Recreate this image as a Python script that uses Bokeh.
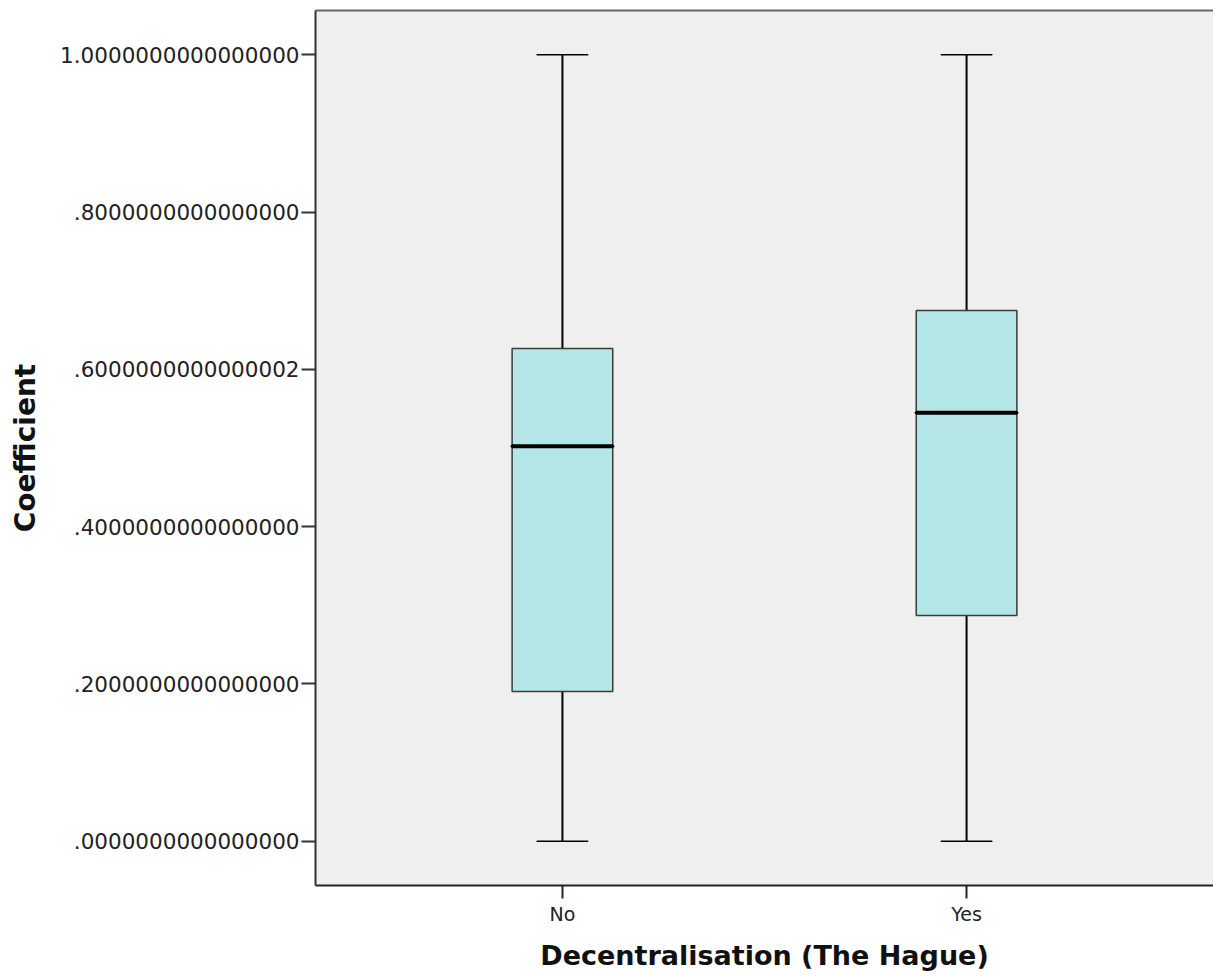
from bokeh.plotting import figure
from bokeh.models import FactorRange, Range1d, FixedTicker, LinearAxis, ColumnDataSource
from bokeh.embed import file_html
from bokeh.resources import INLINE

categories = ["No", "Yes"]
lower_whisker = [0.0, 0.0]
q1 = [0.1904, 0.2870]
median = [0.5023, 0.5448]
q3 = [0.6266, 0.6749]
upper_whisker = [1.0, 1.0]

y_ticks = [0.0, 0.2, 0.4, 0.6, 0.8, 1.0]
y_tick_labels = [".0000000000000000", ".2000000000000000", ".4000000000000000",
                 ".6000000000000002", ".8000000000000000", "1.0000000000000000"]

FONT = "DejaVu Sans"

p = figure(width=1213, height=976, output_backend="svg", toolbar_location=None,
           x_range=FactorRange(*categories, range_padding=0.111, range_padding_units="absolute"),
           y_range=Range1d(-0.0563, 1.0563),
           min_border_left=315, min_border_right=0, min_border_top=10, min_border_bottom=91)

p.background_fill_color = "#efefef"
p.border_fill_color = "white"
p.outline_line_color = None
p.xgrid.visible = False
p.ygrid.visible = False

src = ColumnDataSource(dict(cat=categories, lw=lower_whisker, q1=q1, med=median, q3=q3, uw=upper_whisker))

# whiskers
p.segment(x0="cat", y0="lw", x1="cat", y1="q1", source=src, line_color="black", line_width=2)
p.segment(x0="cat", y0="q3", x1="cat", y1="uw", source=src, line_color="black", line_width=2)
# caps
p.rect(x="cat", y="lw", width=0.126, height=0.0001, source=src, line_color="black", line_width=1.5, fill_color=None)
p.rect(x="cat", y="uw", width=0.126, height=0.0001, source=src, line_color="black", line_width=1.5, fill_color=None)
# boxes
p.vbar(x="cat", bottom="q1", top="q3", width=0.249, source=src,
       fill_color="#b4e6e8", line_color="#3a3a3a", line_width=1.5)
# medians
p.rect(x="cat", y="med", width=0.249, height=0.0001, source=src, line_color="black", line_width=4, fill_color=None)

# y axis
ya = p.yaxis[0]
ya.ticker = FixedTicker(ticks=y_ticks)
ya.major_label_overrides = {t: l for t, l in zip(y_ticks, y_tick_labels)}
ya.minor_tick_line_color = None
ya.major_tick_out = 14
ya.major_tick_in = 0
ya.major_tick_line_width = 2
ya.major_tick_line_color = "#333333"
ya.axis_line_width = 2
ya.axis_line_color = "#333333"
ya.major_label_text_font = FONT
ya.major_label_text_font_size = "21.5px"
ya.major_label_text_color = "#222222"
ya.major_label_standoff = 2
ya.axis_label = "Coefficient"
ya.axis_label_text_font = FONT
ya.axis_label_text_font_style = "bold"
ya.axis_label_text_font_size = "28px"
ya.axis_label_text_color = "#111111"
ya.axis_label_standoff = 15

# x axis
xa = p.xaxis[0]
xa.major_tick_out = 13
xa.major_tick_in = 0
xa.major_tick_line_width = 2
xa.major_tick_line_color = "#222222"
xa.axis_line_width = 2
xa.axis_line_color = "#222222"
xa.major_label_text_font = FONT
xa.major_label_text_font_size = "19px"
xa.major_label_text_color = "#222222"
xa.major_label_standoff = 4
xa.axis_label = "Decentralisation (The Hague)"
xa.axis_label_text_font = FONT
xa.axis_label_text_font_style = "bold"
xa.axis_label_text_font_size = "27px"
xa.axis_label_text_color = "#111111"
xa.axis_label_standoff = 12

# top border
top = LinearAxis(ticker=FixedTicker(ticks=[]), major_label_text_font_size="0px",
                 axis_line_color="#666666", axis_line_width=2,
                 major_tick_line_color=None, minor_tick_line_color=None)
p.add_layout(top, "above")

open("out.html", "w").write(file_html(p, INLINE))
